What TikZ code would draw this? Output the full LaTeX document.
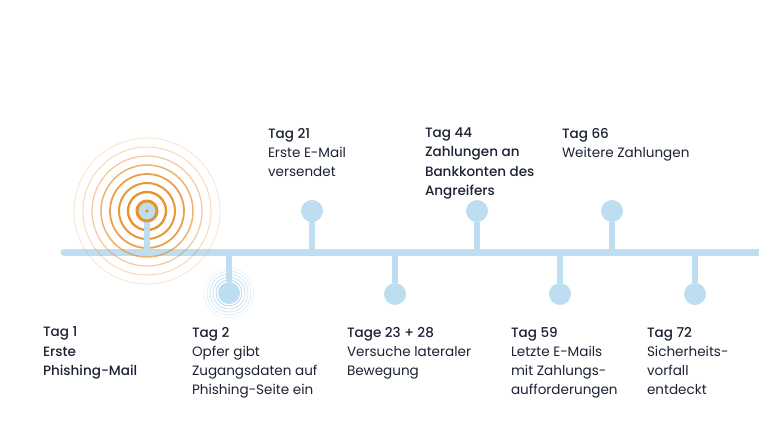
\documentclass[tikz,border=0pt]{standalone}
\usepackage{fontspec}
\setmainfont{Poppins}[BoldFont={Poppins Medium}]
\begin{document}
\begin{tikzpicture}[x=1bp,y=-1bp,
  every node/.style={inner sep=0pt,outer sep=0pt},
  tl/.style={draw=tlblue,line width=7bp,line cap=round},
  stem/.style={draw=tlblue,line width=6bp},
  dot/.style={circle,fill=tlblue,minimum size=22bp},
  lbl/.style={anchor=north west,align=left,text=navy,font=\fontsize{13.6}{19.3}\selectfont},
]
\definecolor{tlblue}{RGB}{189,221,241}
\definecolor{ringblue}{RGB}{150,196,230}
\definecolor{ringor}{RGB}{232,145,48}
\definecolor{navy}{RGB}{27,34,52}
\useasboundingbox (0,0) rectangle (759,426);
% timeline
\coordinate (L) at (64,252);
\coordinate (R) at (765,252);
\draw[tl] (L) -- (R);
% orange rings for Tag 1
\foreach \r/\o/\w in {19/1/2.3,28/0.95/2.0,37/0.85/1.8,46/0.7/1.5,55/0.5/1.2,64/0.35/1.0,73/0.22/0.9}{
  \draw[draw=ringor,opacity=\o,line width=\w bp] (147,211) circle (\r);
}
% blue rings for Tag 2
\foreach \r/\o in {13/0.7,16/0.55,19/0.42,22/0.3,25/0.18}{
  \draw[draw=ringblue,opacity=\o,line width=0.8bp] (229,293) circle (\r);
}
% dots
\node[dot,minimum size=17bp] (d1) at (147,211) {};
\node[dot] (d2) at (229,293) {};
\node[dot] (d21) at (312,211) {};
\node[dot] (d23) at (395,294) {};
\node[dot] (d44) at (477,211) {};
\node[dot] (d59) at (560,294) {};
\node[dot] (d66) at (612,211) {};
\node[dot] (d72) at (695,294) {};
\foreach \d in {d1,d21,d44,d66,d2,d23,d59,d72}{
  \draw[stem] (\d) -- (\d |- L);
}
\draw[draw=ringor,line width=3bp] (d1.center) circle (10);
\fill[ringor] (d1.center) circle (1.8);
% labels
\node[lbl] (t1) at (43,327) {\textbf{Tag 1}\\\textbf{Erste}\\\textbf{Phishing-Mail}};
\node[lbl] (t2) at (192,327) {\textbf{Tag 2}\\Opfer gibt\\Zugangsdaten auf\\Phishing-Seite ein};
\node[lbl] (t21) at (268,128) {\textbf{Tag 21}\\Erste E-Mail\\versendet};
\node[lbl] (t23) at (347,327) {\textbf{Tage 23 + 28}\\Versuche lateraler\\Bewegung};
\node[lbl] (t44) at (425,128) {\textbf{Tag 44}\\\textbf{Zahlungen an}\\\textbf{Bankkonten des}\\\textbf{Angreifers}};
\node[lbl] (t59) at (511,327) {\textbf{Tag 59}\\Letzte E-Mails\\mit Zahlungs-\\aufforderungen};
\node[lbl] (t66) at (562,128) {\textbf{Tag 66}\\Weitere Zahlungen};
\node[lbl] (t72) at (647,327) {\textbf{Tag 72}\\Sicherheits-\\vorfall\\entdeckt};
\end{tikzpicture}
\end{document}
